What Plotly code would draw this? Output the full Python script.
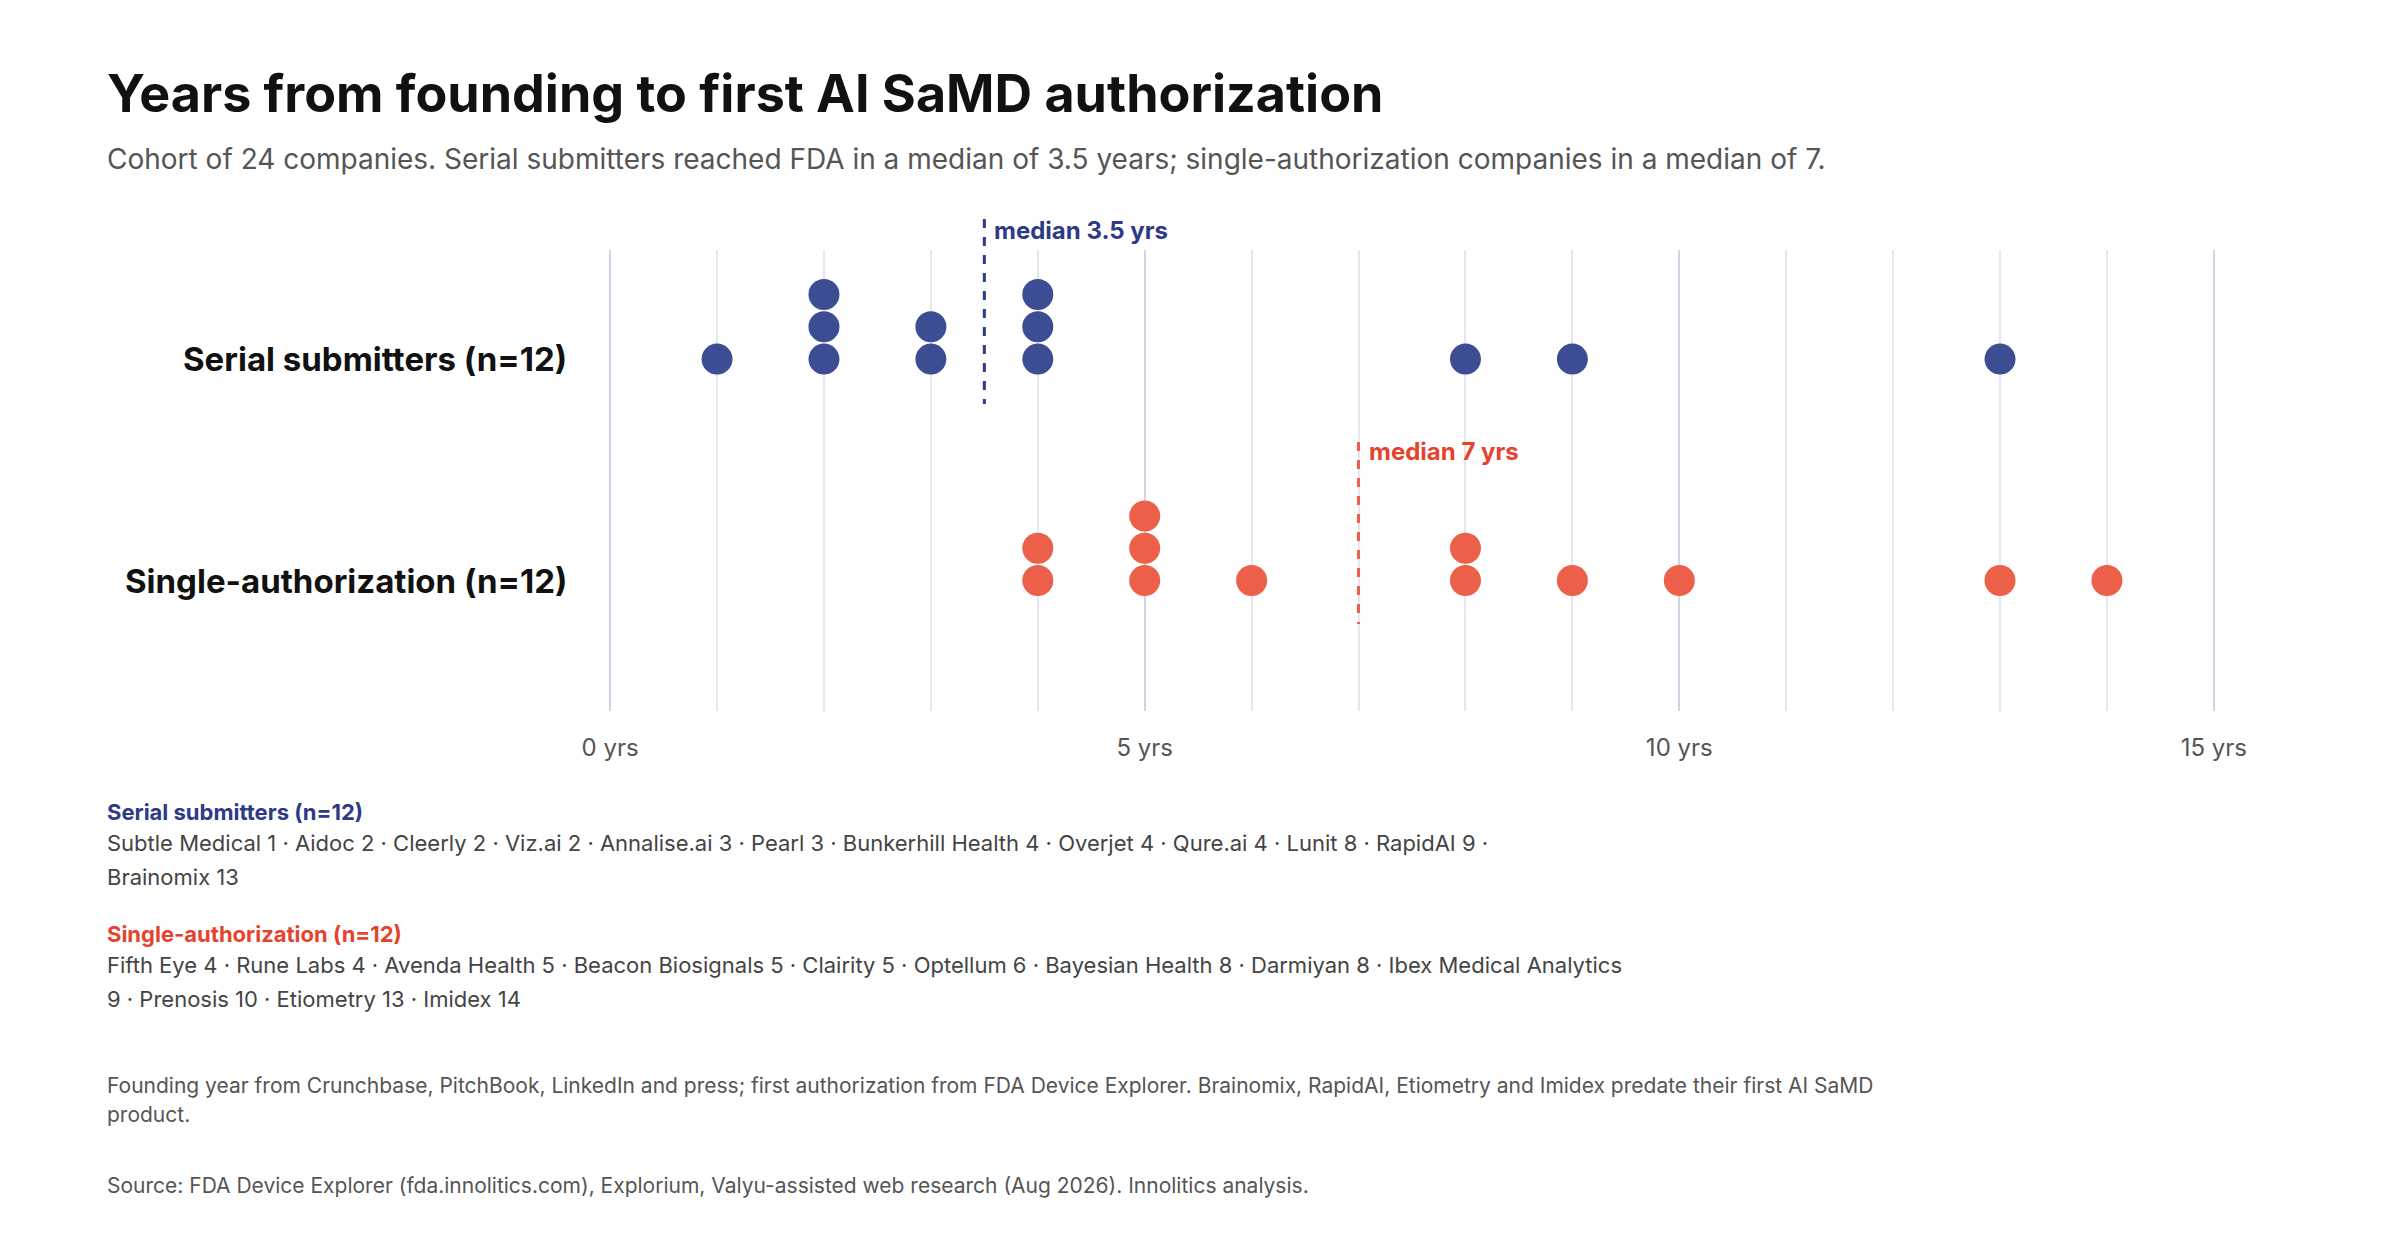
import plotly.graph_objects as go

serial_years = [1, 2, 2, 2, 3, 3, 4, 4, 4, 8, 9, 13]
single_years = [4, 4, 5, 5, 5, 6, 8, 8, 9, 10, 13, 14]
serial_median = 3.5
single_median = 7
tick_vals = [0, 5, 10, 15]
tick_text = ["0 yrs", "5 yrs", "10 yrs", "15 yrs"]

serial_list = ["Subtle Medical 1 · Aidoc 2 · Cleerly 2 · Viz.ai 2 · Annalise.ai 3 · Pearl 3 · Bunkerhill Health 4 · Overjet 4 · Qure.ai 4 · Lunit 8 · RapidAI 9 ·",
               "Brainomix 13"]
single_list = ["Fifth Eye 4 · Rune Labs 4 · Avenda Health 5 · Beacon Biosignals 5 · Clairity 5 · Optellum 6 · Bayesian Health 8 · Darmiyan 8 · Ibex Medical Analytics",
               "9 · Prenosis 10 · Etiometry 13 · Imidex 14"]

BLUE = "#3d4d94"
RED = "#ec5f48"
FONT = "Inter, Noto Sans, sans-serif"

# plot area in pixels
L, R, T, B = 600, 2208, 242, 703
W, H = R - L, B - T

def px(x):
    return (x - L) / W

def py(y):
    return (B - y) / H

SERIAL_BASE = 0
SINGLE_BASE = -6.86


def stack(values, base):
    seen = {}
    ys = []
    for v in values:
        n = seen.get(v, 0)
        ys.append(base + n)
        seen[v] = n + 1
    return ys


fig = go.Figure()
fig.add_trace(go.Scatter(x=serial_years, y=stack(serial_years, SERIAL_BASE), mode="markers",
                         marker=dict(size=31, color=BLUE), hoverinfo="x", cliponaxis=False))
fig.add_trace(go.Scatter(x=single_years, y=stack(single_years, SINGLE_BASE), mode="markers",
                         marker=dict(size=31, color=RED), hoverinfo="x", cliponaxis=False))

fig.add_shape(type="line", x0=serial_median, x1=serial_median, xref="x", yref="paper",
              y0=py(211), y1=py(396),
              line=dict(color="#2e3a87", width=3, dash="dash"))
fig.add_shape(type="line", x0=single_median, x1=single_median, xref="x", yref="paper",
              y0=py(434), y1=py(616),
              line=dict(color=RED, width=3, dash="dash"))

ann = []
ann.append(dict(x=serial_median, y=py(222), xref="x", yref="paper", text="<b>median 3.5 yrs</b>",
                xanchor="left", yanchor="middle", xshift=8, showarrow=False,
                font=dict(size=24, color="#2e3a87")))
ann.append(dict(x=single_median, y=py(443), xref="x", yref="paper", text="<b>median 7 yrs</b>",
                xanchor="left", yanchor="middle", xshift=8, showarrow=False,
                font=dict(size=24, color="#e5432d")))
for base, label in [(SERIAL_BASE, "Serial submitters (n=12)"), (SINGLE_BASE, "Single-authorization (n=12)")]:
    ann.append(dict(x=px(561), y=base, xref="paper", yref="y", text="<b>" + label + "</b>",
                    xanchor="right", yanchor="middle", showarrow=False,
                    font=dict(size=33, color="#111111")))

def text_at(y, text, size=23, color="#444444"):
    ann.append(dict(x=px(97), y=py(y), xref="paper", yref="paper", text=text,
                    xanchor="left", yanchor="middle", showarrow=False, align="left",
                    font=dict(size=size, color=color)))

text_at(85, "<b>Years from founding to first AI SaMD authorization</b>", 52, "#111111")
text_at(151, "Cohort of 24 companies. Serial submitters reached FDA in a median of 3.5 years; single-authorization companies in a median of 7.", 28, "#555555")
text_at(804, "<b>Serial submitters (n=12)</b>", 22, "#2e3a87")
text_at(835, serial_list[0], 22)
text_at(869, serial_list[1], 22)
text_at(926, "<b>Single-authorization (n=12)</b>", 22, "#e5432d")
text_at(957, single_list[0], 22)
text_at(991, single_list[1], 22)
text_at(1077, "Founding year from Crunchbase, PitchBook, LinkedIn and press; first authorization from FDA Device Explorer. Brainomix, RapidAI, Etiometry and Imidex predate their first AI SaMD", 21, "#555555")
text_at(1106, "product.", 21, "#555555")
text_at(1177, "Source: FDA Device Explorer (fda.innolitics.com), Explorium, Valyu-assisted web research (Aug 2026). Innolitics analysis.", 21, "#555555")

fig.update_layout(
    width=2400, height=1260,
    margin=dict(l=L, r=2400 - R, t=T, b=1260 - B),
    paper_bgcolor="white", plot_bgcolor="white",
    showlegend=False,
    font=dict(family=FONT),
    annotations=ann,
    xaxis=dict(range=[-0.02, 15.02], tickvals=tick_vals, ticktext=tick_text, showgrid=True,
               gridcolor="#d3d3e6", gridwidth=2, zeroline=False, showline=False,
               tickfont=dict(size=24, color="#555555"), ticks="", ticklabelstandoff=20,
               minor=dict(dtick=1, showgrid=True, gridcolor="#e6e6ef", gridwidth=2),
               fixedrange=True),
    yaxis=dict(range=[-10.9, 3.38], showgrid=False, zeroline=False, showticklabels=False,
               fixedrange=True),
)

fig.write_html("out.html")
